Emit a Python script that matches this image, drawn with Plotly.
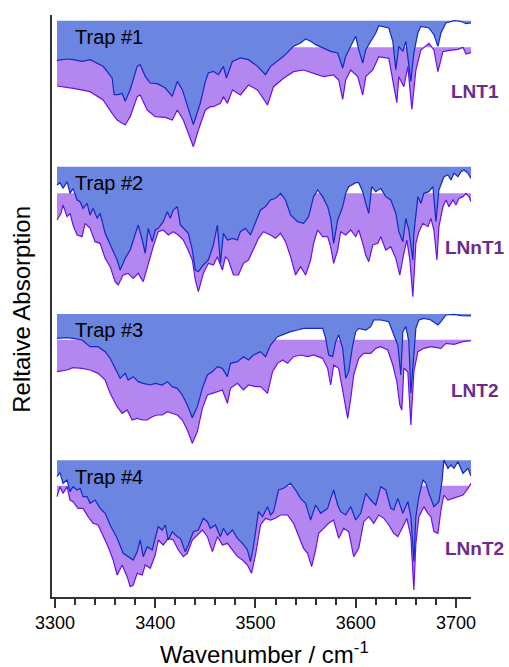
import plotly.graph_objects as go

# ---- data: (wavenumber cm^-1, relative absorption depth, arbitrary units) ----
TRAP1 = [(3302,119),(3312,115),(3318,117),(3327,122),(3335,117),(3348,137),(3357,172),(3359,222),
         (3363,222),(3367,218),(3370,242),(3375,207),(3382,137),(3385,132),(3390,167),(3395,187),
         (3402,189),(3410,202),(3417,227),(3422,182),(3427,207),(3433,267),(3438,312),(3445,247),
         (3450,182),(3453,157),(3458,152),(3463,162),(3468,137),(3471,172),(3477,122),(3485,112),
         (3493,117),(3502,137),(3510,162),(3515,137),(3522,122),(3528,107),(3538,77),(3545,67),
         (3550,55),(3555,62),(3560,72),(3568,82),(3575,92),(3582,97),(3587,142),(3590,107),
         (3597,67),(3600,47),(3603,87),(3607,127),(3610,87),(3615,62),(3620,37),(3623,15),
         (3633,22),(3637,62),(3640,147),(3643,77),(3647,92),(3650,62),(3655,182),(3658,97),
         (3662,37),(3665,17),(3673,22),(3678,42),(3682,77),(3685,37),(3690,7),(3698,0),
         (3705,2),(3710,9),(3715,7)]
LNT1 = [(3302,116),(3318,123),(3335,133),(3348,158),(3357,198),(3362,218),(3370,233),(3375,208),
        (3382,148),(3385,143),(3392,188),(3400,208),(3410,210),(3417,218),(3422,188),(3428,218),
        (3433,258),(3438,298),(3443,248),(3450,188),(3455,178),(3458,178),(3465,168),(3468,148),
        (3472,168),(3477,128),(3485,143),(3493,113),(3502,128),(3512,173),(3518,118),(3528,93),
        (3538,73),(3548,68),(3558,78),(3568,88),(3578,83),(3583,98),(3587,156),(3590,98),
        (3595,68),(3602,88),(3607,143),(3610,88),(3617,68),(3623,28),(3633,33),(3638,118),
        (3641,166),(3643,88),(3648,118),(3652,58),(3656,186),(3660,68),(3665,8),(3673,-12),
        (3678,8),(3682,73),(3687,13),(3692,10),(3702,6),(3707,0),(3710,20),(3715,16)]
TRAP2 = [(3302,55),(3305,48),(3308,65),(3312,45),(3315,80),(3318,65),(3322,100),(3325,105),
         (3328,125),(3332,110),(3335,145),(3338,125),(3342,155),(3345,140),(3350,200),(3357,245),
         (3362,280),(3365,310),(3370,275),(3375,250),(3380,205),(3383,175),(3387,220),(3390,260),
         (3393,185),(3397,225),(3400,190),(3403,185),(3408,165),(3412,135),(3415,155),(3418,130),
         (3422,120),(3425,175),(3430,190),(3433,200),(3437,250),(3440,310),(3443,315),(3448,295),
         (3453,280),(3458,235),(3462,175),(3465,290),(3468,200),(3472,220),(3477,215),(3482,220),
         (3485,195),(3490,185),(3495,205),(3500,165),(3505,130),(3510,120),(3515,100),(3520,95),
         (3525,80),(3530,100),(3535,145),(3542,165),(3548,170),(3553,150),(3558,90),(3562,70),
         (3567,90),(3572,120),(3575,155),(3578,230),(3582,160),(3587,120),(3590,80),(3593,60),
         (3600,48),(3603,48),(3607,75),(3610,110),(3613,140),(3616,60),(3620,75),(3625,65),
         (3630,90),(3635,100),(3640,140),(3643,195),(3647,225),(3650,155),(3653,190),(3657,280),
         (3658,200),(3662,90),(3665,110),(3668,80),(3673,75),(3677,60),(3680,165),(3683,70),
         (3688,30),(3692,25),(3695,40),(3698,20),(3702,30),(3705,15),(3708,10),(3712,20),(3715,35)]
LNNT1 = [(3302,80),(3306,60),(3308,35),(3312,70),(3315,60),(3318,95),(3322,125),(3327,130),
         (3330,90),(3335,105),(3340,145),(3345,150),(3350,195),(3355,220),(3360,265),(3363,275),
         (3368,245),(3373,240),(3378,255),(3383,240),(3388,265),(3393,210),(3398,160),(3403,115),
         (3408,110),(3413,125),(3418,115),(3423,125),(3428,140),(3432,165),(3437,200),(3440,260),
         (3443,295),(3448,240),(3453,210),(3458,215),(3462,190),(3467,230),(3470,190),(3473,200),
         (3478,245),(3483,245),(3488,210),(3493,200),(3498,165),(3503,135),(3508,115),(3515,125),
         (3520,135),(3525,120),(3530,145),(3535,190),(3540,245),(3545,220),(3550,245),(3555,200),
         (3558,150),(3562,110),(3567,130),(3572,130),(3575,160),(3578,210),(3582,170),(3585,115),
         (3590,125),(3595,110),(3600,130),(3603,110),(3607,150),(3610,185),(3613,205),(3617,155),
         (3622,150),(3625,130),(3630,170),(3635,160),(3640,195),(3644,245),(3648,180),(3651,140),
         (3654,200),(3657,310),(3660,150),(3663,115),(3667,90),(3672,100),(3675,75),(3678,110),
         (3681,200),(3683,100),(3687,40),(3690,20),(3693,40),(3697,20),(3700,35),(3703,15),
         (3707,10),(3710,0),(3713,10),(3715,25)]
TRAP3 = [(3302,73),(3312,71),(3318,73),(3327,78),(3335,98),(3343,98),(3350,113),(3355,133),
         (3360,163),(3365,193),(3370,178),(3373,198),(3378,188),(3383,203),(3388,208),(3395,213),
         (3400,208),(3407,213),(3412,203),(3417,218),(3422,223),(3427,243),(3432,273),(3437,311),
         (3442,278),(3447,223),(3452,183),(3457,173),(3462,158),(3467,163),(3472,188),(3475,148),
         (3482,143),(3488,128),(3493,138),(3498,123),(3505,113),(3510,128),(3515,93),(3522,68),
         (3528,61),(3535,53),(3542,48),(3548,43),(3558,43),(3567,43),(3570,73),(3573,123),
         (3577,128),(3580,83),(3583,63),(3587,103),(3590,193),(3593,173),(3597,93),(3600,53),
         (3603,43),(3610,48),(3615,38),(3618,18),(3625,18),(3633,23),(3638,63),(3642,93),
         (3645,183),(3647,53),(3650,38),(3653,83),(3655,238),(3658,113),(3660,43),(3663,18),
         (3668,13),(3675,18),(3682,33),(3685,23),(3690,3),(3698,1),(3705,5),(3715,6)]
LNT2 = [(3302,96),(3312,91),(3318,84),(3327,86),(3335,91),(3343,101),(3350,121),(3355,161),
        (3362,201),(3367,221),(3372,211),(3377,241),(3382,236),(3387,241),(3392,241),(3397,231),
        (3402,226),(3407,226),(3412,216),(3417,221),(3422,226),(3427,241),(3432,271),(3437,311),
        (3442,276),(3447,206),(3452,166),(3457,161),(3462,156),(3467,151),(3472,191),(3475,146),
        (3482,131),(3488,151),(3493,136),(3500,141),(3505,141),(3512,161),(3517,96),(3522,71),
        (3527,61),(3532,71),(3538,51),(3545,46),(3552,51),(3558,46),(3567,56),(3572,86),
        (3575,136),(3578,76),(3583,86),(3588,166),(3592,236),(3595,176),(3598,106),(3603,56),
        (3608,41),(3615,41),(3620,26),(3625,21),(3632,31),(3637,76),(3641,126),(3644,196),
        (3646,211),(3648,86),(3652,96),(3655,256),(3658,96),(3662,36),(3668,26),(3675,21),
        (3682,26),(3685,26),(3690,11),(3698,14),(3707,6),(3715,3)]
TRAP4 = [(3302,49),(3305,37),(3308,69),(3312,59),(3315,94),(3318,79),(3322,89),(3325,84),
         (3328,109),(3332,109),(3335,129),(3340,119),(3345,144),(3350,159),(3355,194),(3362,234),
         (3368,279),(3373,289),(3378,299),(3382,274),(3385,239),(3388,289),(3392,259),(3397,269),
         (3400,234),(3403,199),(3407,209),(3410,194),(3413,239),(3417,214),(3422,229),(3425,234),
         (3430,274),(3433,254),(3438,214),(3443,209),(3448,174),(3452,184),(3455,204),(3460,194),
         (3465,229),(3468,204),(3472,224),(3477,209),(3482,234),(3487,249),(3492,269),(3495,304),
         (3498,259),(3503,154),(3507,169),(3512,139),(3515,164),(3518,154),(3523,89),(3528,84),
         (3535,69),(3540,89),(3545,114),(3550,129),(3555,179),(3560,134),(3565,159),(3572,144),
         (3575,114),(3578,89),(3582,134),(3585,154),(3590,164),(3595,139),(3600,179),(3605,159),
         (3610,99),(3615,119),(3620,134),(3625,79),(3630,89),(3635,144),(3638,149),(3642,114),
         (3647,159),(3652,124),(3655,169),(3658,304),(3660,169),(3663,109),(3667,59),(3670,69),
         (3673,99),(3678,139),(3683,124),(3686,64),(3688,-1),(3692,24),(3695,14),(3698,24),
         (3702,4),(3707,39),(3712,24),(3715,47)]
LNNT2 = [(3302,33),(3305,3),(3308,23),(3312,3),(3315,43),(3318,48),(3323,68),(3328,68),
         (3333,93),(3338,113),(3343,118),(3348,148),(3353,183),(3358,223),(3362,268),(3367,238),
         (3372,273),(3375,303),(3378,298),(3382,263),(3387,268),(3390,238),(3395,248),(3400,208),
         (3403,163),(3408,178),(3413,158),(3418,163),(3423,193),(3428,213),(3432,203),(3437,163),
         (3442,148),(3447,133),(3452,153),(3457,198),(3462,153),(3467,178),(3472,173),(3477,193),
         (3482,213),(3487,223),(3492,238),(3496,263),(3500,208),(3505,118),(3510,98),(3515,103),
         (3520,98),(3525,88),(3532,88),(3538,113),(3543,153),(3548,188),(3552,203),(3556,243),
         (3560,193),(3563,143),(3568,128),(3573,113),(3578,103),(3583,158),(3588,128),(3593,138),
         (3598,213),(3603,188),(3608,108),(3613,93),(3618,113),(3623,88),(3628,98),(3633,118),
         (3638,143),(3642,153),(3647,123),(3651,98),(3655,153),(3658,313),(3660,173),(3663,93),
         (3668,63),(3672,83),(3675,93),(3678,138),(3682,143),(3685,73),(3688,28),(3692,43),
         (3697,38),(3702,33),(3707,28),(3712,8),(3715,-7)]

TRAP_NAMES = ["Trap #1", "Trap #2", "Trap #3", "Trap #4"]
SAMPLE_NAMES = ["LNT1", "LNnT1", "LNT2", "LNnT2"]
TRAP_SPECTRA = [TRAP1, TRAP2, TRAP3, TRAP4]
SAMPLE_SPECTRA = [LNT1, LNNT1, LNT2, LNNT2]

# ---- layout / styling ----
BLUE_OFFSETS = [62, 500, 942, 1381]     # stacking offsets (axis units)
PURPLE_OFFSETS = [142, 580, 1019, 1457]
X_START, X_END = 3302, 3715
BLUE_FILL = "#6b85e0"
BLUE_LINE = "#1428c8"
PURPLE_FILL = "#b487f0"
PURPLE_LINE = "#6a12e6"
LABEL_PURPLE = "#6a2c91"
FONT = "Liberation Sans, Arial, Helvetica, sans-serif"

fig = go.Figure()

def add_filled(spec, offset, fill, line):
    xs = [p[0] for p in spec]
    ys = [offset + p[1] for p in spec]
    fig.add_trace(go.Scatter(x=[X_START, X_END], y=[offset, offset], mode="lines",
                             line=dict(width=0, color=fill), hoverinfo="skip", showlegend=False))
    fig.add_trace(go.Scatter(x=xs, y=ys, mode="lines", fill="tonexty", fillcolor=fill,
                             line=dict(width=1.2, color=line), showlegend=False))

for i in range(4):
    add_filled(SAMPLE_SPECTRA[i], PURPLE_OFFSETS[i], PURPLE_FILL, PURPLE_LINE)
    add_filled(TRAP_SPECTRA[i], BLUE_OFFSETS[i], BLUE_FILL, BLUE_LINE)

annotations = []
TRAP_Y = [110, 550, 991, 1430]
LABEL_Y = [275, 742, 1170, 1645]
for i in range(4):
    annotations.append(dict(x=3318, y=TRAP_Y[i], xref="x", yref="y", text=TRAP_NAMES[i],
                            showarrow=False, xanchor="left", yanchor="middle",
                            font=dict(family=FONT, size=20, color="black")))
    annotations.append(dict(x=1.0095, y=LABEL_Y[i], xref="paper", yref="y",
                            text="<b>" + SAMPLE_NAMES[i] + "</b>", showarrow=False,
                            xanchor="center", yanchor="middle",
                            font=dict(family=FONT, size=19, color=LABEL_PURPLE)))
annotations.append(dict(x=-0.072, y=0.495, xref="paper", yref="paper", text="Reltaive Absorption",
                        textangle=-90, showarrow=False, xanchor="center", yanchor="middle",
                        font=dict(family=FONT, size=24, color="black")))
annotations.append(dict(x=0.508, y=-0.097, xref="paper", yref="paper",
                        text="Wavenumber / cm<sup>-1</sup>", showarrow=False,
                        xanchor="center", yanchor="middle",
                        font=dict(family=FONT, size=24, color="black")))

fig.update_layout(
    width=509, height=667,
    margin=dict(l=52, r=38, t=15, b=70, pad=0),
    paper_bgcolor="white", plot_bgcolor="white",
    showlegend=False,
    annotations=annotations,
    xaxis=dict(range=[3297, 3715], showgrid=False, zeroline=False,
               showline=True, linecolor="#333333", linewidth=1.5,
               ticks="outside", ticklen=9, tickwidth=1.5, tickcolor="#333333",
               tick0=3300, dtick=100,
               minor=dict(dtick=20, ticks="outside", ticklen=6, tickwidth=1.5, tickcolor="#333333"),
               tickfont=dict(family=FONT, size=18, color="black")),
    yaxis=dict(range=[1791, 45], showgrid=False, zeroline=False, showticklabels=False,
               showline=True, linecolor="#333333", linewidth=1.5, ticks=""),
)

fig.write_html("out.html", config={"displayModeBar": False},
               post_script="document.body.style.margin='0px';document.body.style.overflow='hidden';")
